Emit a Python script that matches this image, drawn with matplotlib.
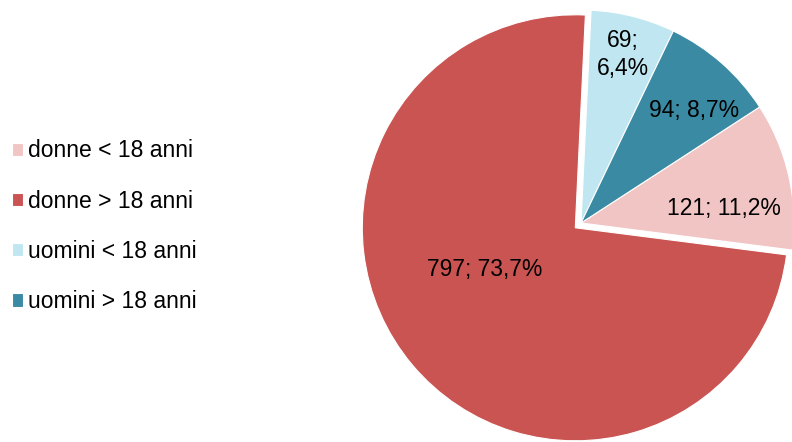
import matplotlib.pyplot as plt

# data (legend order, same as the clockwise order of the slices)
labels = ['donne < 18 anni', 'donne > 18 anni', 'uomini < 18 anni', 'uomini > 18 anni']
counts = [121, 797, 69, 94]
label_txt = ['121; 11,2%', '797; 73,7%', '69;\n6,4%', '94; 8,7%']
colors = ['#F2C5C5', '#CA5451', '#C0E7F1', '#3A8AA3']

plt.rcParams['font.family'] = ['Liberation Sans', 'DejaVu Sans']

fig = plt.figure(figsize=(7.92, 4.42), dpi=100)

# pie axes: centre at about (581, 223) px, radius about 213 px
R = 213
cx, cy = 581, 442 - 223
half = 1.1 * R
ax = fig.add_axes([(cx - half) / 792, (cy - half) / 442, 2 * half / 792, 2 * half / 442])

wedges, _ = ax.pie(counts, colors=colors, startangle=33, counterclock=False,
                   explode=[0, 0.035, 0, 0], radius=1.0,
                   wedgeprops=dict(edgecolor='#FFFFFF', linewidth=0.8))
for w in wedges:
    w.set_clip_on(False)
ax.set_xlim(-1.1, 1.1)
ax.set_ylim(-1.1, 1.1)
ax.axis('off')

# data labels (value; percent), placed inside the slices
label_pos = [(0.67, 0.07), (-0.45, -0.22), (0.195, 0.79), (0.53, 0.53)]
for (x, y), t in zip(label_pos, label_txt):
    ax.text(x, y, t, ha='center', va='center', fontsize=16.5, color='black',
            linespacing=1.3)

fig.legend(wedges, labels, loc='center left', bbox_to_anchor=(0.003, 0.488),
           frameon=False, fontsize=16.5, handlelength=0.52, handleheight=0.52,
           handletextpad=0.2, labelspacing=1.19, borderaxespad=0)

fig.savefig('out.png', dpi=100)
